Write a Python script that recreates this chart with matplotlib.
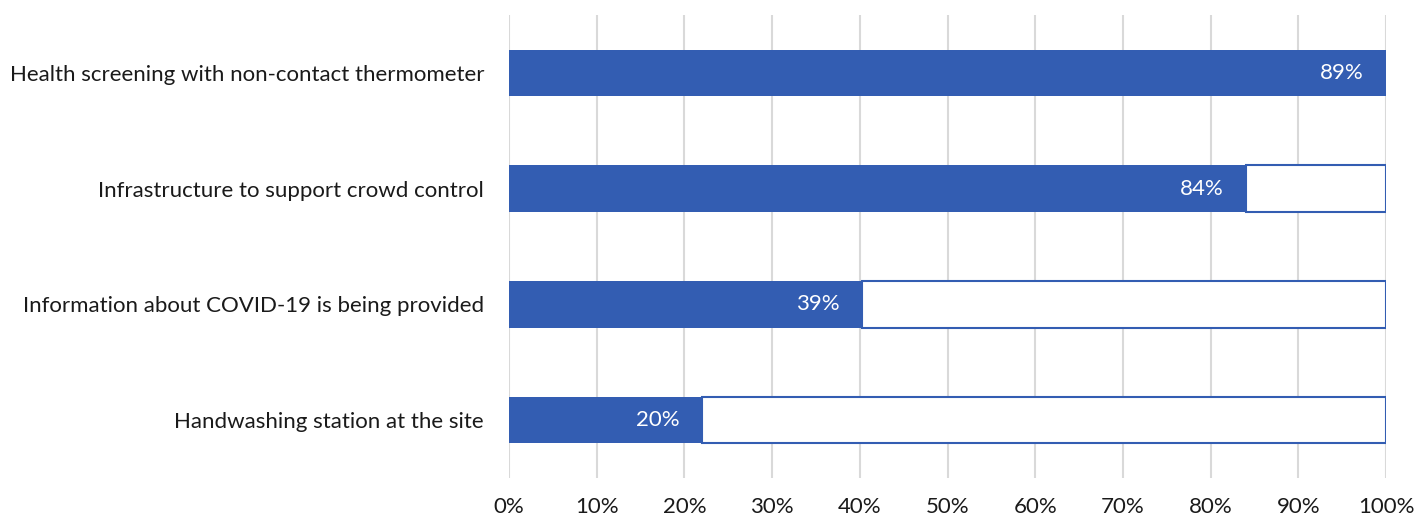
import matplotlib.pyplot as plt
from matplotlib.ticker import FuncFormatter

# --- Dane ---
categories = [
    "Health screening with non-contact thermometer",
    "Infrastructure to support crowd control",
    "Information about COVID-19 is being provided",
    "Handwashing station at the site",
]
values = [89, 84, 39, 20]        # etykiety (%)
remaining = [0, 16, 58, 71]      # druga seria (100% stacked)
ticks = [0, 10, 20, 30, 40, 50, 60, 70, 80, 90, 100]

BLUE = "#335DB2"

plt.rcParams["font.family"] = ["Lato", "DejaVu Sans"]

fig = plt.figure(figsize=(14.15, 5.2), dpi=100)
ax = fig.add_axes([509 / 1415, 1 - 478 / 520, (1386 - 509) / 1415, (478 - 15) / 520])

totals = [v + r for v, r in zip(values, remaining)]
fill = [100 * v / t for v, t in zip(values, totals)]
rest = [100 * r / t for r, t in zip(remaining, totals)]
ypos = list(range(len(categories)))

ax.barh(ypos, fill, height=0.4, color=BLUE, zorder=3)
ax.barh(ypos, rest, left=fill, height=0.4, color="white", edgecolor=BLUE, linewidth=1.5, zorder=3)

for y, f, v in zip(ypos, fill, values):
    ax.annotate(f"{v}%", xy=(f, y), xytext=(-16, 0), textcoords="offset points",
                ha="right", va="center", color="white", fontsize=16, zorder=4)

ax.set_xlim(0, 100)
ax.set_ylim(len(categories) - 0.5, -0.5)
ax.set_xticks(ticks)
ax.xaxis.set_major_formatter(FuncFormatter(lambda x, _: f"{x:.0f}%"))
ax.set_yticks(ypos)
ax.set_yticklabels(categories)
ax.grid(axis="x", color="#D9D9D9", linewidth=1.5, zorder=0)
ax.set_axisbelow(True)
for s in ax.spines.values():
    s.set_visible(False)
ax.tick_params(axis="x", length=0, pad=14, labelsize=16, labelcolor="#1a1a1a")
ax.tick_params(axis="y", length=0, pad=18, labelsize=16, labelcolor="#1a1a1a")

fig.savefig("out.png", dpi=100)
